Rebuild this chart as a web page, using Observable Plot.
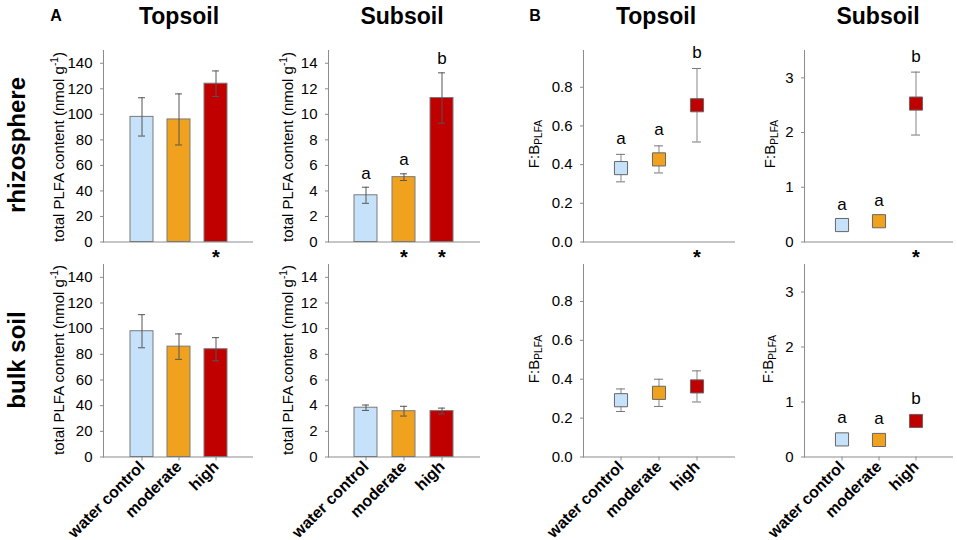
<!DOCTYPE html>
<html><head><meta charset="utf-8">
<script src="https://cdn.jsdelivr.net/npm/d3@7"></script>
<script src="https://cdn.jsdelivr.net/npm/@observablehq/plot@0.6"></script>
<style>
body{margin:0;background:#fff;font-family:"Liberation Sans",Arial,sans-serif;}
#root{position:relative;width:957px;height:540px;overflow:hidden;background:#fff}
#root svg{position:absolute;background:transparent}
.t{position:absolute;white-space:nowrap;line-height:1;color:#000}
.rot{transform:translate(-50%,-50%) rotate(-90deg)}
.ctr{transform:translate(-50%,-50%)}
sup{font-size:0.68em;vertical-align:0.55em;line-height:0}
sub{font-size:0.68em;vertical-align:-0.3em;line-height:0}
</style></head><body><div id="root"></div>
<script>
// ---------- data ----------
const treatments = ["water control", "moderate", "high"];
const fillColors = ["#c6e2fa", "#f0a21e", "#c00000"];

// A: total PLFA content (nmol g-1), mean and SE
const plfaTopRhizoMean = [98, 96, 124];
const plfaTopRhizoSE   = [15, 20, 10];
const plfaSubRhizoMean = [3.66, 5.08, 11.28];
const plfaSubRhizoSE   = [0.63, 0.26, 1.97];
const plfaTopBulkMean  = [98, 86, 84];
const plfaTopBulkSE    = [12.9, 9.9, 9.0];
const plfaSubBulkMean  = [3.84, 3.57, 3.58];
const plfaSubBulkSE    = [0.21, 0.38, 0.23];

// B: F:B ratio, mean and SE
const fbTopRhizoMean = [0.382, 0.427, 0.707];
const fbTopRhizoSE   = [0.071, 0.07, 0.19];
const fbSubRhizoMean = [0.31, 0.38, 2.53];
const fbSubRhizoSE   = [0.08, 0.08, 0.575];
const fbTopBulkMean  = [0.292, 0.33, 0.363];
const fbTopBulkSE    = [0.058, 0.07, 0.08];
const fbSubBulkMean  = [0.32, 0.31, 0.655];
const fbSubBulkSE    = [0.1, 0.1, 0.11];

// significance letters and asterisks
const lettersPlfaSubRhizo = ["a", "a", "b"];
const lettersFbTopRhizo   = ["a", "a", "b"];
const lettersFbSubRhizo   = ["a", "a", "b"];
const lettersFbSubBulk    = ["a", "a", "b"];
const starsPlfaTopRhizo = ["", "", "*"];
const starsPlfaSubRhizo = ["", "*", "*"];
const starsFbTopRhizo   = ["", "", "*"];
const starsFbSubRhizo   = ["", "", "*"];

// tick values
const plfaTopTicks = [0, 20, 40, 60, 80, 100, 120, 140];
const plfaSubTicks = [0, 2, 4, 6, 8, 10, 12, 14];
const fbTopTicks   = [0, 0.2, 0.4, 0.6, 0.8];
const fbSubTicks   = [0, 1, 2, 3];

// ---------- drawing ----------
const root = document.getElementById("root");
const AX = "#8c8c8c";
const FONT = "'Liberation Sans', Arial, sans-serif";

function panel({left, right, top, base, yMax, ticks, fmt, mean, se, letters, stars, kind, xAxis}) {
  const ml = 50, mr = 6, mt = 14, mb = xAxis ? 90 : 34;
  const w = ml + (right - left) + mr;
  const h = mt + (base - top) + mb;
  const data = treatments.map((t, i) => ({
    t, m: mean[i], lo: mean[i] - se[i], hi: mean[i] + se[i], c: fillColors[i],
    L: letters ? letters[i] : "", S: stars ? stars[i] : ""
  }));
  const marks = [
    Plot.frame({anchor: "left", stroke: AX}),
    Plot.ruleY([0], {stroke: AX}),
    Plot.axisY({ticks, tickFormat: fmt, tickSize: 3, tickPadding: 8, fontSize: 15, stroke: AX, fill: "#000", label: null})
  ];
  if (xAxis) marks.push(Plot.axisX({tickRotate: -45, tickSize: 4, tickPadding: 3, fontSize: 16, fontWeight: "bold", stroke: AX, fill: "#000", label: null}));
  if (kind === "bar") {
    marks.push(Plot.barY(data, {x: "t", y: "m", fill: "c", stroke: "#7a7a7a", strokeWidth: 1}));
    marks.push(Plot.ruleX(data, {x: "t", y1: "lo", y2: "hi", stroke: "#555"}));
    marks.push(Plot.tickY(data, {x: "t", y: "lo", insetLeft: 8, insetRight: 8, stroke: "#555"}));
    marks.push(Plot.tickY(data, {x: "t", y: "hi", insetLeft: 8, insetRight: 8, stroke: "#555"}));
  } else {
    marks.push(Plot.ruleX(data, {x: "t", y1: "lo", y2: "hi", stroke: "#9a9a9a", strokeWidth: 1.2}));
    marks.push(Plot.tickY(data, {x: "t", y: "lo", insetLeft: 7, insetRight: 7, stroke: "#777"}));
    marks.push(Plot.tickY(data, {x: "t", y: "hi", insetLeft: 7, insetRight: 7, stroke: "#777"}));
    marks.push(Plot.dot(data, {x: "t", y: "m", symbol: "square", r: 7.4, fill: "c", stroke: "#666", strokeWidth: 1}));
  }
  if (letters) marks.push(Plot.text(data, {x: "t", y: "hi", text: "L", dy: kind === "bar" ? -14 : -16, fontSize: 17, fill: "#000"}));
  if (stars) marks.push(Plot.text(data.filter(d => d.S), {x: "t", text: "S", frameAnchor: "bottom", dy: 22, fontSize: 20, fontWeight: "bold", fill: "#000"}));
  const svg = Plot.plot({
    width: w, height: h, marginLeft: ml, marginRight: mr, marginTop: mt, marginBottom: mb,
    style: {fontFamily: FONT, fontSize: "15px", background: "transparent", overflow: "visible"},
    x: {type: "band", domain: treatments, paddingInner: 0.387, paddingOuter: 0.693, axis: xAxis ? undefined : null},
    y: {domain: [0, yMax]},
    color: {type: "identity"},
    marks
  });
  svg.style.left = (left - ml) + "px";
  svg.style.top = (top - mt) + "px";
  root.appendChild(svg);
}

const f1 = d3.format(".1f"), f0 = d3.format("d");
const R1 = {top: 50, base: 241.5}, R2 = {top: 264, base: 456.5};
const cA1 = {left: 103, right: 253}, cA2 = {left: 328, right: 480};
const cB1 = {left: 583, right: 735}, cB2 = {left: 804, right: 953};

panel({...cA1, ...R1, yMax: 150, ticks: plfaTopTicks, fmt: f0, mean: plfaTopRhizoMean, se: plfaTopRhizoSE, stars: starsPlfaTopRhizo, kind: "bar"});
panel({...cA2, ...R1, yMax: 15, ticks: plfaSubTicks, fmt: f0, mean: plfaSubRhizoMean, se: plfaSubRhizoSE, letters: lettersPlfaSubRhizo, stars: starsPlfaSubRhizo, kind: "bar"});
panel({...cB1, ...R1, yMax: 0.99, ticks: fbTopTicks, fmt: f1, mean: fbTopRhizoMean, se: fbTopRhizoSE, letters: lettersFbTopRhizo, stars: starsFbTopRhizo, kind: "dot"});
panel({...cB2, ...R1, yMax: 3.5, ticks: fbSubTicks, fmt: f0, mean: fbSubRhizoMean, se: fbSubRhizoSE, letters: lettersFbSubRhizo, stars: starsFbSubRhizo, kind: "dot"});
panel({...cA1, ...R2, yMax: 150, ticks: plfaTopTicks, fmt: f0, mean: plfaTopBulkMean, se: plfaTopBulkSE, kind: "bar", xAxis: true});
panel({...cA2, ...R2, yMax: 15, ticks: plfaSubTicks, fmt: f0, mean: plfaSubBulkMean, se: plfaSubBulkSE, kind: "bar", xAxis: true});
panel({...cB1, ...R2, yMax: 0.99, ticks: fbTopTicks, fmt: f1, mean: fbTopBulkMean, se: fbTopBulkSE, kind: "dot", xAxis: true});
panel({...cB2, ...R2, yMax: 3.5, ticks: fbSubTicks, fmt: f0, mean: fbSubBulkMean, se: fbSubBulkSE, letters: lettersFbSubBulk, kind: "dot", xAxis: true});

// ---------- text labels ----------
function label(html, x, y, cls, style) {
  const d = document.createElement("div");
  d.className = "t " + cls;
  d.innerHTML = html;
  d.style.left = x + "px"; d.style.top = y + "px";
  Object.assign(d.style, style || {});
  root.appendChild(d);
}
label("A", 56, 16, "ctr", {fontWeight: "bold", fontSize: "16px"});
label("B", 535, 16, "ctr", {fontWeight: "bold", fontSize: "16px"});
label("Topsoil", 179, 16, "ctr", {fontWeight: "bold", fontSize: "23px"});
label("Subsoil", 402, 16, "ctr", {fontWeight: "bold", fontSize: "23px"});
label("Topsoil", 656, 16, "ctr", {fontWeight: "bold", fontSize: "23px"});
label("Subsoil", 878, 16, "ctr", {fontWeight: "bold", fontSize: "23px"});
label("rhizosphere", 17, 145, "rot", {fontWeight: "bold", fontSize: "24px"});
label("bulk soil", 17, 360, "rot", {fontWeight: "bold", fontSize: "24px"});
const plfaLab = "total PLFA content (nmol g<sup>-1</sup>)";
const fbLab = "F:B<sub>PLFA</sub>";
label(plfaLab, 58, 147, "rot", {fontSize: "15px"});
label(plfaLab, 287, 147, "rot", {fontSize: "15px"});
label(plfaLab, 58, 360, "rot", {fontSize: "15px"});
label(plfaLab, 287, 360, "rot", {fontSize: "15px"});
label(fbLab, 533, 144, "rot", {fontSize: "15px"});
label(fbLab, 769, 144, "rot", {fontSize: "15px"});
label(fbLab, 533, 359, "rot", {fontSize: "15px"});
label(fbLab, 767, 359, "rot", {fontSize: "15px"});
</script></body></html>
